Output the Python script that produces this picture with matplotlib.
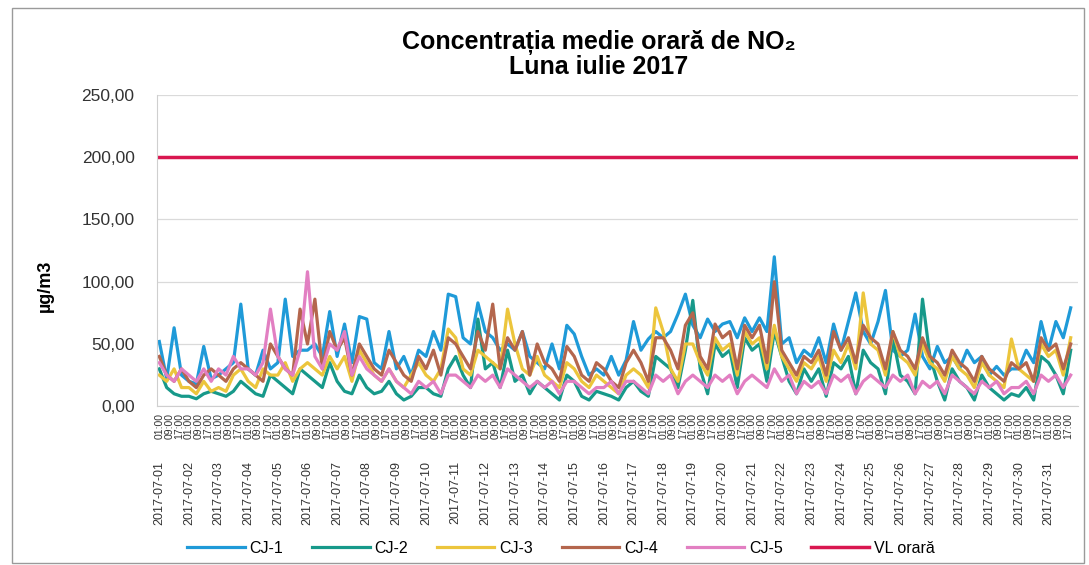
import matplotlib
matplotlib.use('Agg')
import matplotlib.pyplot as plt
import matplotlib.transforms as mtransforms
from matplotlib.patches import Rectangle
import numpy as np

plt.rcParams['font.family'] = ['Liberation Sans', 'DejaVu Sans']

# readings every 6 hours (01:00, 07:00, 13:00, 19:00)
days = ['2017-07-%02d' % d for d in range(1, 32)]
hour_labels = ['01:00', '09:00', '17:00']
step_h = 6
names = ['CJ-1', 'CJ-2', 'CJ-3', 'CJ-4', 'CJ-5']
vl_name = 'VL orară'
vl_value = 200

cj1 = [52, 22, 63, 25,  20, 18, 48, 22,  25, 30, 35, 82,  30, 25, 45, 30,
       35, 86, 40, 45,  45, 50, 40, 76,  40, 66, 35, 72,  70, 35, 30, 60,
       30, 40, 25, 45,  40, 60, 45, 90,  88, 55, 50, 83,  60, 55, 45, 50,
       45, 60, 40, 35,  30, 50, 30, 65,  58, 40, 25, 30,  25, 40, 25, 37,
       68, 45, 54, 60,  55, 60, 74, 90,  65, 55, 70, 60,  66, 68, 55, 71,
       60, 71, 60, 120, 50, 55, 35, 45,  40, 55, 35, 66,  45, 68, 91, 60,
       50, 68, 93, 45,  40, 45, 74, 40,  30, 48, 35, 40,  30, 45, 35, 40,
       25, 32, 25, 30,  30, 45, 35, 68,  45, 68, 55, 79]
cj2 = [30, 15, 10, 8,  8, 6, 10, 12,  10, 8, 12, 20,  15, 10, 8, 25,
       20, 15, 10, 30,  25, 20, 15, 35,  20, 12, 10, 25,  15, 10, 12, 20,
       10, 5, 8, 15,  15, 10, 8, 30,  40, 25, 15, 70,  30, 35, 15, 45,
       20, 25, 10, 20,  15, 10, 5, 25,  20, 8, 5, 12,  10, 8, 5, 15,
       20, 12, 8, 40,  35, 30, 15, 45,  85, 30, 10, 50,  40, 45, 15, 55,
       45, 50, 20, 60,  40, 20, 10, 30,  20, 30, 8, 35,  30, 40, 10, 45,
       35, 30, 10, 55,  25, 20, 10, 86,  40, 20, 5, 30,  20, 15, 5, 25,
       15, 10, 5, 10,  8, 15, 5, 40,  35, 25, 10, 45]
cj3 = [25, 20, 30, 15,  15, 10, 20, 12,  15, 12, 25, 30,  20, 15, 30, 25,
       25, 35, 20, 30,  35, 30, 25, 40,  30, 40, 20, 45,  35, 25, 20, 30,
       20, 15, 25, 35,  25, 20, 30, 62,  55, 30, 25, 45,  40, 35, 30, 78,
       50, 30, 25, 40,  25, 20, 15, 35,  30, 20, 15, 25,  20, 15, 10, 25,
       30, 25, 15, 79,  60, 30, 20, 50,  50, 35, 25, 55,  45, 50, 25, 60,
       50, 55, 30, 65,  40, 30, 20, 35,  30, 40, 20, 45,  35, 50, 30, 91,
       50, 45, 25, 60,  40, 35, 25, 50,  35, 30, 20, 40,  30, 25, 15, 35,
       25, 20, 15, 54,  30, 25, 20, 50,  40, 45, 25, 55]
cj4 = [40, 25, 20, 30,  20, 15, 25, 30,  25, 20, 30, 35,  30, 25, 20, 50,
       40, 30, 25, 78,  50, 86, 30, 60,  45, 55, 25, 50,  40, 30, 25, 45,
       35, 25, 20, 40,  30, 45, 25, 55,  50, 40, 30, 60,  45, 82, 30, 55,
       45, 60, 25, 50,  35, 30, 20, 48,  40, 25, 20, 35,  30, 20, 15, 35,
       45, 35, 20, 55,  55, 45, 30, 65,  75, 40, 30, 66,  55, 60, 30, 65,
       55, 65, 35, 100, 45, 35, 25, 40,  35, 45, 25, 60,  45, 55, 35, 65,
       55, 50, 30, 60,  45, 40, 30, 55,  40, 35, 25, 45,  35, 30, 20, 40,
       30, 25, 20, 35,  30, 35, 20, 55,  45, 50, 30, 50]
cj5 = [35, 25, 20, 30,  25, 20, 30, 20,  30, 25, 40, 30,  30, 25, 35, 78,
       40, 30, 25, 45,  108, 40, 30, 50,  45, 60, 25, 40,  30, 25, 20, 30,
       20, 15, 10, 20,  15, 20, 10, 25,  25, 20, 15, 25,  20, 25, 15, 30,
       25, 20, 15, 20,  15, 20, 10, 20,  20, 15, 10, 15,  15, 20, 10, 20,
       20, 15, 10, 25,  20, 25, 10, 20,  25, 20, 15, 25,  20, 25, 10, 20,
       25, 20, 15, 30,  20, 25, 10, 20,  15, 20, 10, 25,  20, 25, 10, 20,
       25, 20, 15, 25,  20, 25, 10, 20,  15, 20, 10, 25,  20, 15, 10, 20,
       15, 20, 10, 15,  15, 20, 10, 25,  20, 25, 15, 25]

colors = ['#1f9ad8', '#17998a', '#ecc53c', '#b4664d', '#e27fc2']
vl_color = '#d91650'

fig = plt.figure(figsize=(10.89, 5.65), dpi=100)
fig.patches.append(Rectangle((0.011, 0.004), 0.984, 0.982, transform=fig.transFigure,
                             fill=False, edgecolor='#9a9a9a', linewidth=1))
ax = fig.add_axes([0.144, 0.281, 0.846, 0.551])

n_hours = len(days) * 24
for vals, name, c in zip([cj1, cj2, cj3, cj4, cj5], names, colors):
    x = np.arange(len(vals)) * step_h
    ax.plot(x, vals, color=c, linewidth=2.3, label=name)
ax.plot([0, n_hours - 1], [vl_value, vl_value], color=vl_color, linewidth=2.5, label=vl_name)

ax.set_xlim(-2, n_hours)
ax.set_ylim(0, 250)
ax.set_yticks(np.arange(0, 251, 50))
ax.yaxis.set_major_formatter(plt.FuncFormatter(lambda v, p: ('%.2f' % v).replace('.', ',')))
ax.tick_params(axis='y', length=0, pad=16, labelsize=12.5, labelcolor='#333333')
ax.grid(axis='y', color='#dadada', linewidth=0.9)
for s in ['top', 'right']:
    ax.spines[s].set_visible(False)
for s in ['left', 'bottom']:
    ax.spines[s].set_color('#cfcfcf')

ax.set_xticks(np.arange(0, n_hours, 8))
ax.set_xticklabels(hour_labels * len(days), rotation=90, fontsize=7.5, color='#333333')
ax.tick_params(axis='x', length=0, pad=5)

trans = mtransforms.blended_transform_factory(ax.transData, ax.transAxes)
for i, d in enumerate(days):
    ax.text(i * 24, -0.175, d, transform=trans, rotation=90, ha='center', va='top',
            fontsize=9, color='#333333')

fig.text(0.55, 0.925, 'Concentrația medie orară de NO₂', ha='center', va='center',
         fontsize=18, fontweight='bold')
fig.text(0.55, 0.882, 'Luna iulie 2017', ha='center', va='center', fontsize=18, fontweight='bold')
fig.text(0.042, 0.495, 'µg/m3', rotation=90, ha='center', va='center', fontsize=13, fontweight='bold')

fig.legend(loc='center', bbox_to_anchor=(0.515, 0.03), ncol=6, frameon=False, fontsize=11.5,
           handlelength=3.6, columnspacing=1.8, handletextpad=0.3)

fig.savefig('out.png', dpi=100)
